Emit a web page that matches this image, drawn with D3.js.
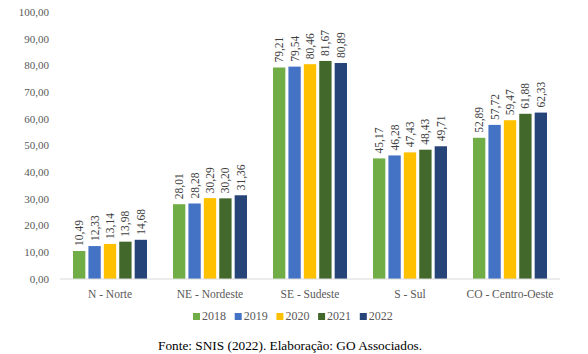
<!DOCTYPE html>
<html>
<head>
<meta charset="utf-8">
<script src="https://cdn.jsdelivr.net/npm/d3@7"></script>
<style>
  body { margin: 0; background: #fff; }
  svg { font-family: "Liberation Serif", "Times New Roman", serif; }
</style>
</head>
<body>
<div id="chart"></div>
<script>
// regions and years
const regions = ["N - Norte", "NE - Nordeste", "SE - Sudeste", "S - Sul", "CO - Centro-Oeste"];
const years = ["2018", "2019", "2020", "2021", "2022"];
const colors = ["#70ad47", "#4472c4", "#ffc000", "#43682b", "#264478"];

// values per year (one entry per region)
const v2018 = [10.49, 28.01, 79.21, 45.17, 52.89];
const v2019 = [12.33, 28.28, 79.54, 46.28, 57.72];
const v2020 = [13.14, 30.29, 80.46, 47.43, 59.47];
const v2021 = [13.98, 30.20, 81.67, 48.43, 61.88];
const v2022 = [14.68, 31.36, 80.89, 49.71, 62.33];
const series = [v2018, v2019, v2020, v2021, v2022];

const yTicks = [0, 10, 20, 30, 40, 50, 60, 70, 80, 90, 100];

const width = 588, height = 354;
const svg = d3.select("#chart").append("svg")
  .attr("width", width)
  .attr("height", height);

const fmt = v => d3.format(".2f")(v).replace(".", ",");

// scales
const x = d3.scaleBand().domain(regions).range([60, 560]);
const xInner = d3.scaleBand().domain(years).range([0, 74]).paddingInner(0.2);
const y = d3.scaleLinear().domain([0, 100]).range([279, 12]);

// y axis labels (no line)
svg.append("g")
  .selectAll("text")
  .data(yTicks)
  .join("text")
  .attr("x", 49)
  .attr("y", d => y(d))
  .attr("dy", "0.35em")
  .attr("text-anchor", "end")
  .attr("font-size", 11)
  .attr("fill", "#595959")
  .text(d => fmt(d));

// bars
const groups = svg.append("g")
  .selectAll("g")
  .data(regions)
  .join("g")
  .attr("transform", d => `translate(${x(d) + (x.bandwidth() - 74) / 2},0)`);

groups.each(function (region, ri) {
  const g = d3.select(this);
  years.forEach((yr, yi) => {
    const val = series[yi][ri];
    g.append("rect")
      .attr("x", xInner(yr))
      .attr("y", y(val))
      .attr("width", xInner.bandwidth())
      .attr("height", y(0) - y(val))
      .attr("fill", colors[yi]);
    const cx = xInner(yr) + xInner.bandwidth() / 2;
    g.append("text")
      .attr("transform", `translate(${cx + 4},${y(val) - 5}) rotate(-90)`)
      .attr("font-size", 11.5)
      .attr("fill", "#404040")
      .text(fmt(val));
  });
});

// x axis line
svg.append("line")
  .attr("x1", 60).attr("x2", 560)
  .attr("y1", y(0)).attr("y2", y(0))
  .attr("stroke", "#d9d9d9");

// category labels
svg.append("g")
  .selectAll("text")
  .data(regions)
  .join("text")
  .attr("x", d => x(d) + x.bandwidth() / 2)
  .attr("y", 298)
  .attr("text-anchor", "middle")
  .attr("font-size", 11.5)
  .attr("fill", "#595959")
  .text(d => d);

// legend
const legend = svg.append("g").attr("transform", "translate(193,320)");
years.forEach((yr, i) => {
  const lx = i * 41.7;
  legend.append("rect")
    .attr("x", lx).attr("y", -7)
    .attr("width", 7).attr("height", 7)
    .attr("fill", colors[i]);
  legend.append("text")
    .attr("x", lx + 9).attr("y", 0)
    .attr("font-size", 12)
    .attr("fill", "#595959")
    .text(yr);
});

// source note
svg.append("text")
  .attr("x", 158)
  .attr("y", 350)
  .attr("font-size", 13.3)
  .attr("fill", "#000")
  .text("Fonte: SNIS (2022). Elaboração: GO Associados.");
</script>
</body>
</html>
